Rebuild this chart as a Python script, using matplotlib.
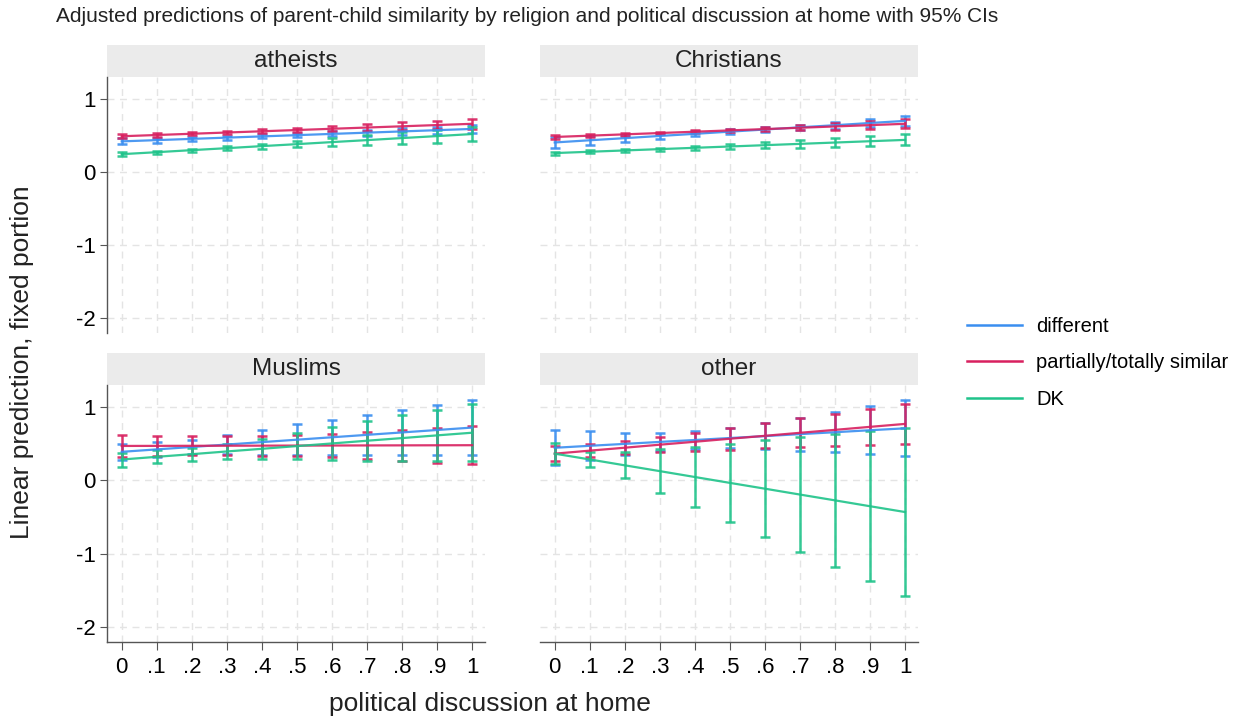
import matplotlib
matplotlib.use("Agg")
import matplotlib.pyplot as plt
from matplotlib.patches import Rectangle
from matplotlib.lines import Line2D

plt.rcParams['font.family'] = ['Liberation Sans', 'DejaVu Sans']
plt.rcParams['axes.unicode_minus'] = False

discussion = [0, .1, .2, .3, .4, .5, .6, .7, .8, .9, 1]
tick_labels = ['0', '.1', '.2', '.3', '.4', '.5', '.6', '.7', '.8', '.9', '1']
groups = ['atheists', 'Christians', 'Muslims', 'other']
series = ['different', 'partially/totally similar', 'DK']
colors = ['#3a8ef0', '#d8205f', '#1fc38a']

# predicted values (margins) per religion group
atheists_diff = [0.42, 0.437, 0.454, 0.471, 0.488, 0.505, 0.522, 0.539, 0.556, 0.573, 0.59]
atheists_sim = [0.49, 0.507, 0.524, 0.541, 0.558, 0.575, 0.592, 0.609, 0.626, 0.643, 0.66]
atheists_dk = [0.245, 0.272, 0.30, 0.327, 0.355, 0.382, 0.41, 0.437, 0.465, 0.492, 0.52]
christians_diff = [0.405, 0.435, 0.464, 0.494, 0.523, 0.553, 0.582, 0.612, 0.641, 0.671, 0.70]
christians_sim = [0.48, 0.498, 0.516, 0.534, 0.552, 0.57, 0.588, 0.606, 0.624, 0.642, 0.66]
christians_dk = [0.26, 0.278, 0.296, 0.314, 0.332, 0.35, 0.368, 0.386, 0.404, 0.422, 0.44]
muslims_diff = [0.39, 0.423, 0.456, 0.489, 0.522, 0.555, 0.588, 0.621, 0.654, 0.687, 0.72]
muslims_sim = [0.47, 0.471, 0.472, 0.473, 0.474, 0.475, 0.476, 0.477, 0.478, 0.479, 0.48]
muslims_dk = [0.285, 0.322, 0.358, 0.395, 0.431, 0.468, 0.504, 0.541, 0.577, 0.614, 0.65]
other_diff = [0.445, 0.472, 0.498, 0.525, 0.551, 0.578, 0.604, 0.631, 0.657, 0.684, 0.71]
other_sim = [0.365, 0.406, 0.446, 0.487, 0.527, 0.568, 0.608, 0.649, 0.689, 0.730, 0.77]
other_dk = [0.365, 0.286, 0.206, 0.127, 0.047, -0.033, -0.112, -0.192, -0.271, -0.351, -0.43]

# half-widths of the 95% confidence intervals
atheists_diff_ci = [0.04, 0.035, 0.03, 0.028, 0.028, 0.03, 0.035, 0.04, 0.045, 0.05, 0.055]
atheists_sim_ci = [0.03, 0.025, 0.022, 0.022, 0.025, 0.03, 0.037, 0.045, 0.053, 0.06, 0.065]
atheists_dk_ci = [0.025, 0.022, 0.022, 0.027, 0.035, 0.045, 0.055, 0.066, 0.077, 0.089, 0.1]
christians_diff_ci = [0.07, 0.058, 0.047, 0.038, 0.032, 0.03, 0.032, 0.038, 0.047, 0.058, 0.07]
christians_sim_ci = [0.03, 0.025, 0.022, 0.02, 0.02, 0.022, 0.027, 0.034, 0.042, 0.05, 0.06]
christians_dk_ci = [0.02, 0.018, 0.018, 0.022, 0.028, 0.035, 0.043, 0.051, 0.059, 0.067, 0.075]
muslims_diff_ci = [0.107, 0.1, 0.1, 0.13, 0.17, 0.21, 0.24, 0.275, 0.31, 0.345, 0.38]
muslims_sim_ci = [0.155, 0.14, 0.13, 0.13, 0.135, 0.145, 0.16, 0.18, 0.21, 0.236, 0.26]
muslims_dk_ci = [0.095, 0.09, 0.09, 0.1, 0.135, 0.18, 0.22, 0.27, 0.31, 0.345, 0.385]
other_diff_ci = [0.24, 0.2, 0.15, 0.125, 0.12, 0.137, 0.18, 0.225, 0.27, 0.33, 0.38]
other_sim_ci = [0.098, 0.085, 0.09, 0.1, 0.12, 0.15, 0.17, 0.2, 0.22, 0.245, 0.275]
other_dk_ci = [0.145, 0.1, 0.177, 0.3, 0.414, 0.534, 0.66, 0.78, 0.91, 1.02, 1.148]

margins = {
    'atheists': [(atheists_diff, atheists_diff_ci), (atheists_sim, atheists_sim_ci), (atheists_dk, atheists_dk_ci)],
    'Christians': [(christians_diff, christians_diff_ci), (christians_sim, christians_sim_ci), (christians_dk, christians_dk_ci)],
    'Muslims': [(muslims_diff, muslims_diff_ci), (muslims_sim, muslims_sim_ci), (muslims_dk, muslims_dk_ci)],
    'other': [(other_diff, other_diff_ci), (other_sim, other_sim_ci), (other_dk, other_dk_ci)],
}

W, H = 1242, 720
fig = plt.figure(figsize=(W / 100, H / 100), dpi=100)

# panel boxes in pixels: left, top, right, bottom
boxes = [(107, 77, 485, 333), (540, 77, 918, 333),
         (107, 385, 485, 642), (540, 385, 918, 642)]
strip_h = 32

for i, (name, (l, t, r, b)) in enumerate(zip(groups, boxes)):
    ax = fig.add_axes([l / W, 1 - b / H, (r - l) / W, (b - t) / H])
    left_col = i % 2 == 0
    bottom_row = i >= 2

    for (pred, ci), color in zip(margins[name], colors):
        ax.errorbar(discussion, pred, yerr=ci, color=color, lw=1.6,
                    elinewidth=1.8, capsize=3.4, capthick=1.8, alpha=0.9)

    ax.set_xlim(-0.042, 1.037)
    ax.set_ylim(-2.2, 1.3)
    ax.set_xticks(discussion)
    ax.set_yticks([-2, -1, 0, 1])
    ax.grid(True, color='#e4e4e4', lw=1.0, linestyle=(0, (5, 4)))
    ax.set_axisbelow(True)

    for side in ['top', 'right']:
        ax.spines[side].set_visible(False)
    ax.spines['left'].set_visible(left_col)
    ax.spines['bottom'].set_visible(bottom_row)
    for side in ['left', 'bottom']:
        ax.spines[side].set_color('#555555')
        ax.spines[side].set_linewidth(1.0)

    ax.tick_params(axis='y', length=5 if left_col else 0, color='#555555',
                   labelsize=16, pad=3, labelleft=left_col)
    ax.tick_params(axis='x', length=6 if bottom_row else 0, color='#555555',
                   labelsize=16, pad=5, labelbottom=bottom_row)
    ax.set_xticklabels(tick_labels)
    ax.set_yticklabels(['-2', '-1', '0', '1'])

    # grey strip header
    sh = strip_h / (b - t)
    ax.add_patch(Rectangle((0, 1), 1, sh, transform=ax.transAxes,
                           facecolor='#ebebeb', edgecolor='none', clip_on=False))
    ax.text(0.5, 1 + sh / 2, name, transform=ax.transAxes, ha='center',
            va='center', fontsize=17.5, color='#222222')

fig.text(56 / W, 1 - 17 / H, 'Adjusted predictions of parent-child similarity by religion and political discussion at home with 95% CIs',
         fontsize=15, va='center', ha='left', color='#222222')
fig.text(22 / W, 1 - 362 / H, 'Linear prediction, fixed portion', rotation=90,
         fontsize=19, va='center', ha='center', color='#222222')
fig.text(490 / W, 1 - 704 / H, 'political discussion at home',
         fontsize=19, va='center', ha='center', color='#222222')

handles = [Line2D([], [], color=c, lw=1.8) for c in colors]
fig.legend(handles, series, loc='center left', bbox_to_anchor=(967 / W, 1 - 363 / H),
           frameon=False, fontsize=14.5, handlelength=2.73, handletextpad=0.7,
           labelspacing=0.85, borderpad=0, borderaxespad=0)

fig.savefig('out.png', dpi=100)
